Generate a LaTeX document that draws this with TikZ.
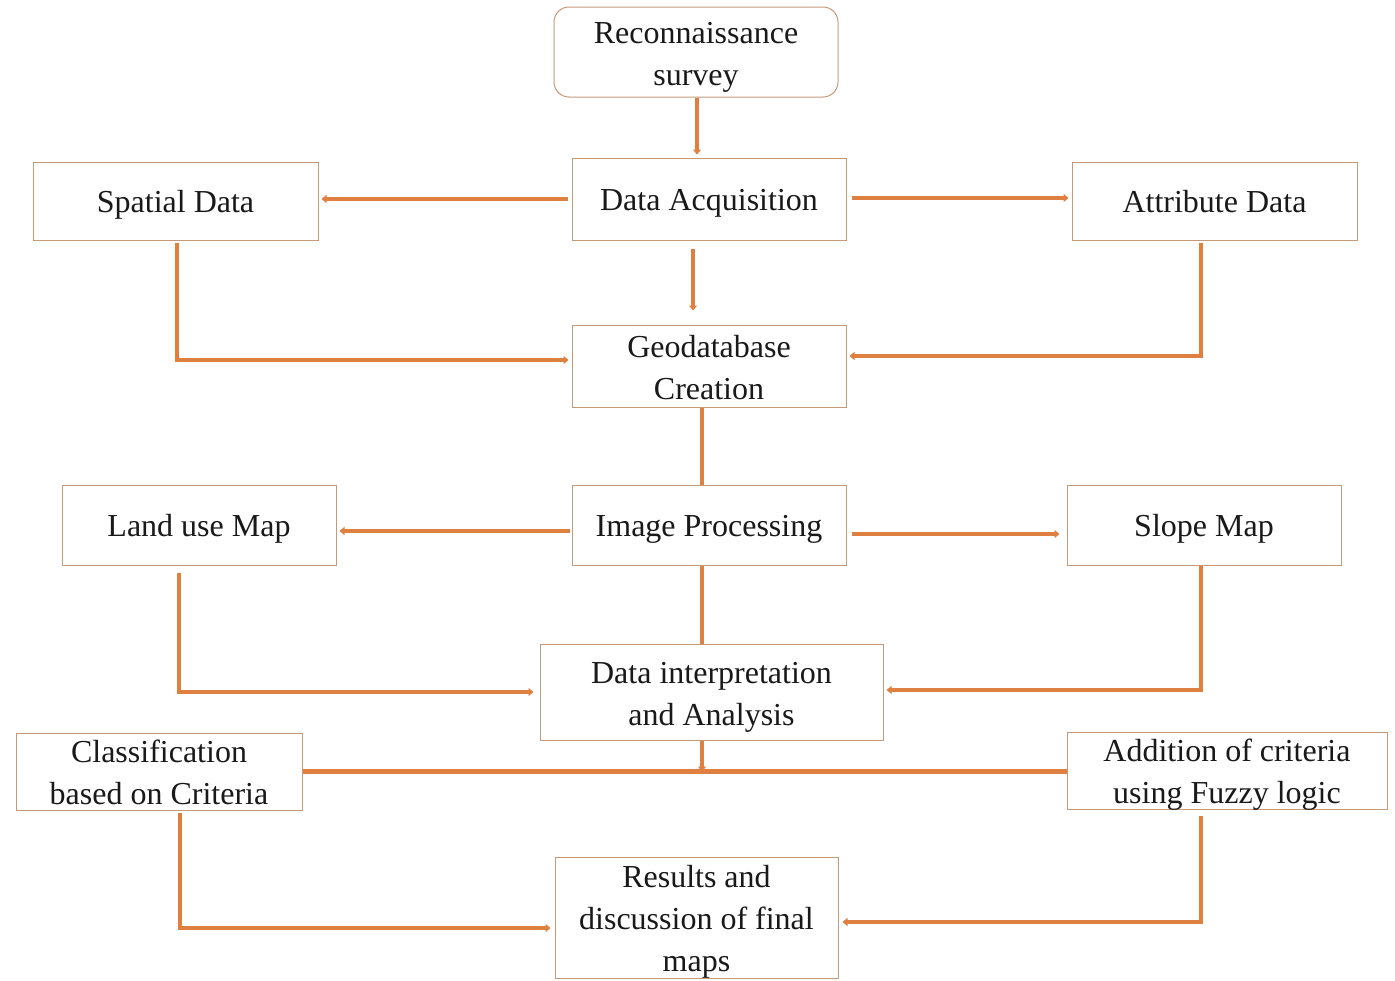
\documentclass[tikz,border=0pt]{standalone}
\usepackage{fontspec}
\setmainfont{Liberation Serif}
\usetikzlibrary{arrows.meta}
\definecolor{lineor}{HTML}{E08040}
\definecolor{boxbd}{HTML}{C49A78}
\newcommand{\topstrut}{\rule{0pt}{32pt}}
\newcommand{\botstrut}{\rule[-8pt]{0pt}{8pt}}
\tikzset{
  box/.style={draw=boxbd, line width=1pt, fill=white, inner xsep=0pt, inner ysep=-10pt, align=center,
    font=\fontsize{32}{42}\selectfont, text=black!90,
    execute at begin node={\rule{0pt}{30pt}},
    execute at end node={\rule[-8pt]{0pt}{8pt}}},
  conn/.style={draw=lineor, line width=4.5pt},
  arr/.style={conn, -{Triangle[length=5pt,width=8pt]}, shorten >=3pt},
}
\begin{document}
\begin{tikzpicture}[x=1pt,y=-1pt]
\useasboundingbox (0,0) rectangle (1395,980);
\fill[white] (0,0) rectangle (1395,980);
% nodes
\node[box, rounded corners=15pt, minimum width=284pt, minimum height=90pt] (rec) at (696,52) {\topstrut Reconnaissance\\survey\botstrut};
\node[box, minimum width=274pt, minimum height=82pt] (acq) at (709,199) {Data Acquisition};
\node[box, minimum width=285pt, minimum height=78pt] (spa) at (175.5,201) {Spatial Data};
\node[box, minimum width=285pt, minimum height=78pt] (att) at (1214.5,201) {Attribute Data};
\node[box, minimum width=274pt, minimum height=82pt] (geo) at (709,366) {\topstrut Geodatabase\\Creation\botstrut};
\node[box, minimum width=274pt, minimum height=80pt] (lum) at (199,525) {Land use Map};
\node[box, minimum width=274pt, minimum height=80pt] (imp) at (709,525) {Image Processing};
\node[box, minimum width=274pt, minimum height=80pt] (slo) at (1204,525) {Slope Map};
\node[box, minimum width=343pt, minimum height=96pt] (dia) at (711.5,692) {\topstrut Data interpretation\\and Analysis\botstrut};
\node[box, minimum width=286pt, minimum height=77pt] (cla) at (159,771.5) {\topstrut Classification\\based on Criteria\botstrut};
\node[box, minimum width=320pt, minimum height=77pt] (add) at (1227,770.5) {\topstrut Addition of criteria\\using Fuzzy logic\botstrut};
\node[box, minimum width=283pt, minimum height=121pt] (res) at (696.5,917.5) {\topstrut Results and\\discussion of final\\maps\botstrut};
% connectors
\draw[arr] ([xshift=1pt]rec.south) -- ([xshift=1pt]rec.south |- acq.north);
\draw[arr, shorten <=4pt] (acq.west) -- (acq.west -| spa.east);
\draw[arr, shorten <=5pt] ([yshift=1pt]acq.east) -- ([yshift=1pt]acq.east -| att.west);
\draw[arr, shorten <=8pt, shorten >=14pt] ([xshift=-16pt]acq.south) -- ([xshift=-16pt]acq.south |- geo.north);
\draw[arr, shorten <=2pt] ([xshift=1.5pt]spa.south) |- ([yshift=6pt]geo.west);
\draw[arr, shorten <=2pt] ([xshift=-13.5pt]att.south) |- ([yshift=10pt]geo.east);
\draw[conn] ([xshift=-7pt]geo.south) -- ([xshift=-7pt]geo.south |- imp.north);
\draw[arr, shorten <=2pt] ([yshift=-6pt]imp.west) -- ([yshift=-6pt]imp.west -| lum.east);
\draw[arr, shorten <=5pt, shorten >=7pt] ([yshift=-9pt]imp.east) -- ([yshift=-9pt]imp.east -| slo.west);
\draw[conn] ([xshift=-7pt]imp.south) -- ([xshift=-7pt]imp.south |- dia.north);
\draw[arr, shorten <=7pt, shorten >=6pt] ([xshift=-20pt]lum.south) |- (dia.west);
\draw[arr, shorten <=0pt] ([xshift=-3pt]slo.south) |- ([yshift=2pt]dia.east);
\coordinate (j) at ([xshift=-9.5pt]dia.south |- cla.east);
\draw[conn] (cla.east) -- (cla.east -| add.west);
\draw[arr, shorten >=0pt] ([xshift=-9.5pt]dia.south) -- (j);
\draw[arr, shorten <=2pt, shorten >=4pt] ([xshift=21pt]cla.south) |- ([yshift=-10.5pt]res.west);
\draw[arr, shorten <=6pt, shorten >=4pt] ([xshift=-26pt]add.south) |- ([yshift=-4.5pt]res.east);
\end{tikzpicture}
\end{document}
